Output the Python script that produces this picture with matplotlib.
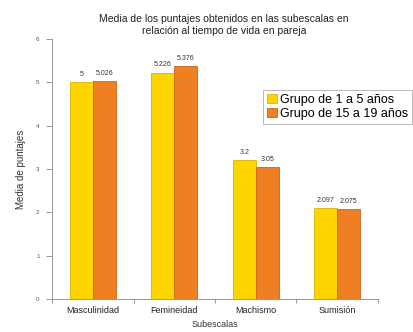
import numpy as np
import matplotlib
matplotlib.use('Agg')
import matplotlib.pyplot as plt

plt.rcParams['font.family'] = ['Liberation Sans', 'DejaVu Sans']

categorias = ['Masculinidad', 'Femineidad', 'Machismo', 'Sumisión']
grupo_1_5 = [5.0, 5.226, 3.2, 2.097]
grupo_15_19 = [5.026, 5.376, 3.05, 2.075]
etiquetas_1_5 = ['5', '5.226', '3.2', '2.097']
etiquetas_15_19 = ['5.026', '5.376', '3.05', '2.075']
nombres = ['Grupo de 1 a 5 años', 'Grupo de 15 a 19 años']
yticks = [0, 1, 2, 3, 4, 5, 6]

amarillo = '#FFD500'
naranja = '#EE7F22'

fig = plt.figure(figsize=(4.13, 3.32), dpi=100)
ax = fig.add_axes([0.126, 0.0994, 0.789, 0.7831])

x = np.arange(len(categorias))
w = 0.28
b1 = ax.bar(x - w/2, grupo_1_5, w, color=amarillo, edgecolor='#D9B400',
            linewidth=0.6, label=nombres[0])
b2 = ax.bar(x + w/2, grupo_15_19, w, color=naranja, edgecolor='#C8661A',
            linewidth=0.6, label=nombres[1])

# etiquetas de valor encima de cada barra
for bars, labs in ((b1, etiquetas_1_5), (b2, etiquetas_15_19)):
    for r, t in zip(bars, labs):
        ax.annotate(t, (r.get_x() + r.get_width()/2, r.get_height()),
                    xytext=(0, 3), textcoords='offset points',
                    ha='center', va='bottom', fontsize=5, color='#333333')

ax.set_xlim(-0.5, len(categorias) - 0.5)
ax.set_ylim(0, 6)
ax.set_yticks(yticks)
ax.set_xticks(x)
ax.set_xticklabels(categorias, fontsize=6.5, color='#222222')
ax.set_xticks(np.arange(-0.5, len(categorias), 1.0), minor=True)
ax.tick_params(axis='x', which='major', length=0, pad=5)
ax.tick_params(axis='x', which='minor', length=3, color='#888888', width=0.6)
ax.tick_params(axis='y', labelsize=4.5, labelcolor='#555555', length=4,
               color='#888888', width=0.6, pad=5)
for s in ('top', 'right'):
    ax.spines[s].set_visible(False)
for s in ('left', 'bottom'):
    ax.spines[s].set_color('#888888')
    ax.spines[s].set_linewidth(0.6)

ax.set_ylabel('Media de puntajes', fontsize=7, color='#333333', labelpad=7)
ax.set_xlabel('Subescalas', fontsize=6.5, color='#333333', labelpad=3.5)

fig.text(224/413, 1 - 25/332,
         'Media de los puntajes obtenidos en las subescalas en\nrelación al tiempo de vida en pareja',
         ha='center', va='center', multialignment='center', fontsize=7.5,
         color='#222222', linespacing=1.15)

leg = fig.legend(loc='upper left', bbox_to_anchor=(263/413, 1 - 90/332),
                 fontsize=9, frameon=True, fancybox=False, borderaxespad=0,
                 handlelength=0.8, handleheight=0.8, handletextpad=0.3,
                 borderpad=0.3, labelspacing=0.15)
leg.get_frame().set_edgecolor('#999999')
leg.get_frame().set_linewidth(0.6)

fig.savefig('out.png', dpi=100)
